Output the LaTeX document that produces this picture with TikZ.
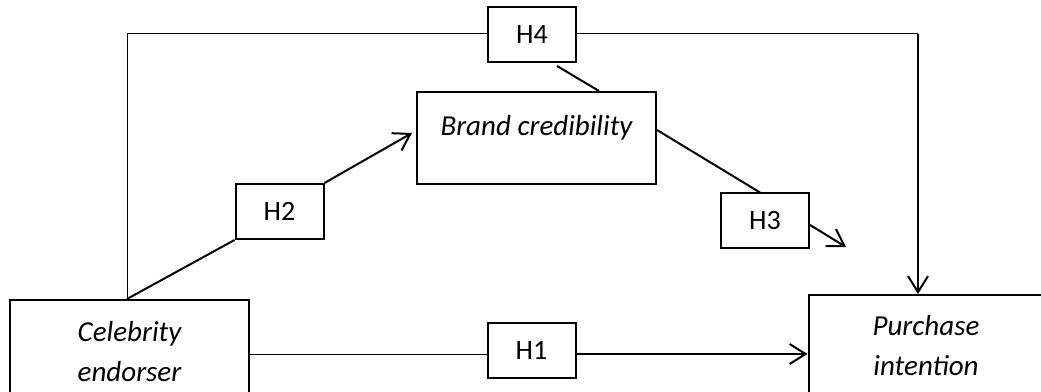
\documentclass[tikz,border=0pt]{standalone}
\usepackage{fontspec}
\setmainfont{Carlito}
\usetikzlibrary{arrows.meta}
\begin{document}
\begin{tikzpicture}[x=1pt,y=1pt,
  construct/.style={draw, line width=2pt, inner sep=0pt, align=center,
    font=\fontsize{29}{40}\selectfont\itshape},
  hyp/.style={draw, line width=2pt, minimum width=88pt, minimum height=55pt,
    inner sep=0pt, font=\fontsize{28}{32}\selectfont},
  thinlink/.style={line width=1pt},
  thicklink/.style={line width=2pt},
  opentip/.style={-{Straight Barb[length=16pt,width=20pt]}}
]
\useasboundingbox (0,0) rectangle (1041,391);
\clip (0,0) rectangle (1041,391);

% constructs
\node[construct, minimum width=239pt, minimum height=104pt] (cel) at (129.5,39) {Celebrity\\endorser};
\node[construct, minimum width=235pt, minimum height=102pt] (pur) at (926,45) {Purchase\\intention};
\node[construct, minimum width=239pt, minimum height=92pt, text height=21pt, text depth=25pt] (br) at (536.5,253) {Brand credibility};

% hypothesis labels
\node[hyp] (h4) at (532,356.5) {H4};
\node[hyp] (h2) at (279.5,179.5) {H2};
\node[hyp] (h3) at (765,170) {H3};
\node[hyp] (h1) at (531.5,40.5) {H1};

% helper points
\coordinate (tl) at (127,357);
\coordinate (tr) at (918,357);
\coordinate (l1) at (0,37);
\coordinate (brtip) at (412,258);
\coordinate (h3tip) at (846,144);

% H4: outer path over the top
\draw[thinlink] (cel.north -| tl) -- (tl) -- (h4.west |- tl);
\draw[thinlink] (h4.east |- tl) -- (tr);
\draw[thicklink, opentip] (tr) -- (pur.north -| tr);
\draw[thicklink] ([xshift=25pt,yshift=-3pt]h4.south) -- ([xshift=62.5pt]br.north);

% H1: direct effect
\draw[thinlink] (cel.east |- l1) -- (h1.west |- l1);
\draw[thicklink, opentip] (h1.east |- l1) -- (pur.west |- l1);

% H2: endorser to brand credibility
\draw[thicklink] (cel.north -| tl) -- (h2.south west);
\draw[thicklink, opentip] (h2.north east) -- (brtip);

% H3: brand credibility onwards
\draw[thicklink] ([yshift=8pt]br.east) -- ([xshift=-5pt]h3.north);
\draw[thicklink, opentip] ([yshift=-4pt]h3.east) -- (h3tip);
\end{tikzpicture}
\end{document}
